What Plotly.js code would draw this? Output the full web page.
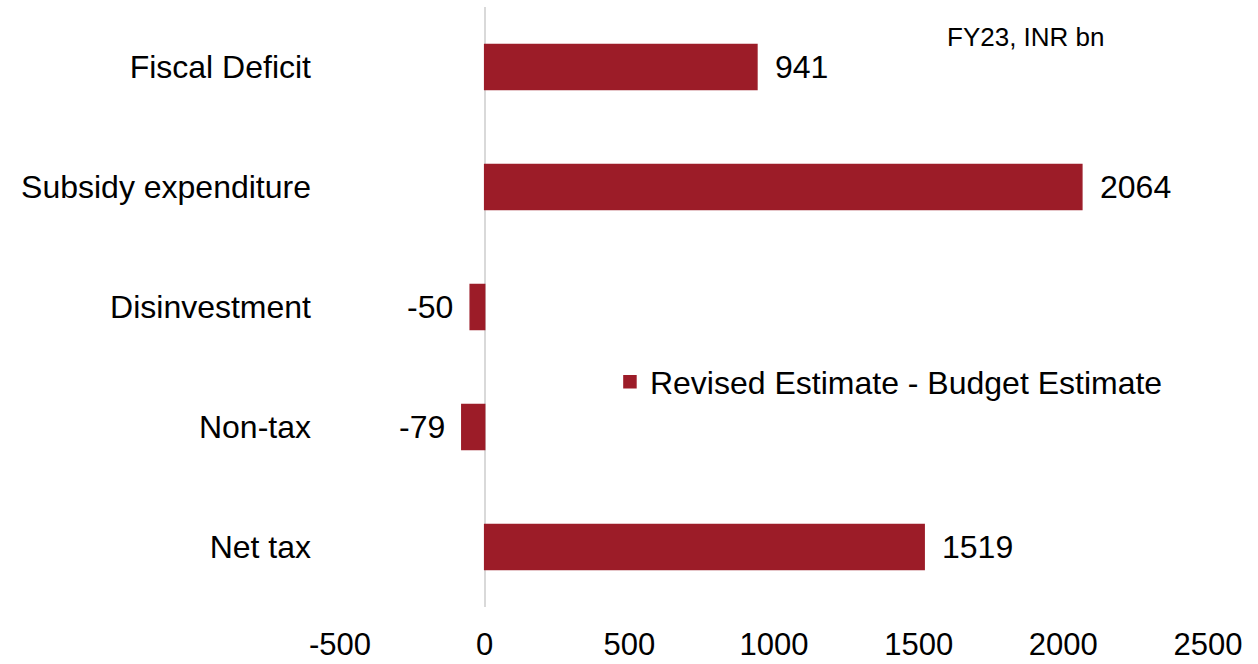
<!DOCTYPE html>
<html>
<head>
<meta charset="utf-8">
<script src="https://cdn.plot.ly/plotly-3.0.1.min.js"></script>
<style>html,body{margin:0;padding:0;background:#fff;}#chart{width:1258px;height:664px;}</style>
</head>
<body>
<div id="chart"></div>
<script>
const categories = ["Fiscal Deficit", "Subsidy expenditure", "Disinvestment", "Non-tax", "Net tax"];
const values = [941, 2064, -50, -79, 1519];
const seriesName = "Revised Estimate - Budget Estimate";
const unitNote = "FY23, INR bn";
const xTicks = [-500, 0, 500, 1000, 1500, 2000, 2500];

const FONT = "Liberation Sans, Arial, sans-serif";
const barColor = "#9C1C28";

const trace = {
  type: "bar",
  orientation: "h",
  x: values,
  y: categories,
  name: seriesName,
  width: 0.375,
  marker: {color: barColor, line: {color: barColor, width: 1.5}},
  hoverinfo: "x+y",
  showlegend: true
};

const labelAnnotations = values.map((v, i) => ({
  x: v, y: categories[i], xref: "x", yref: "y",
  text: String(v), showarrow: false,
  xanchor: v >= 0 ? "left" : "right",
  xshift: v >= 0 ? 16 : -15,
  font: {family: FONT, size: 32, color: "#000"}
}));

const layout = {
  width: 1258, height: 664,
  margin: {l: 340, r: 50, t: 7, b: 57},
  paper_bgcolor: "#fff", plot_bgcolor: "#fff",
  font: {family: FONT, size: 32, color: "#000"},
  xaxis: {
    range: [-500, 2500], tickvals: xTicks, ticktext: xTicks.map(String),
    showgrid: false, zeroline: true, zerolinecolor: "#d9d9d9", zerolinewidth: 2,
    showline: false, ticks: "", ticklabelstandoff: 16,
    tickfont: {family: FONT, size: 31, color: "#000"}, fixedrange: true
  },
  yaxis: {
    type: "category", autorange: "reversed", showgrid: false, zeroline: false,
    showline: false, ticks: "", ticklabelstandoff: 28,
    tickfont: {family: FONT, size: 32, color: "#000"}, fixedrange: true
  },
  showlegend: true,
  legend: {
    x: 0.311, y: 0.375, xanchor: "left", yanchor: "middle",
    bgcolor: "rgba(0,0,0,0)", font: {family: FONT, size: 32, color: "#000"}
  },
  annotations: labelAnnotations.concat([{
    x: (1026 - 340) / 868, y: (607 - 37) / 600, xref: "paper", yref: "paper",
    xanchor: "center", yanchor: "middle",
    text: unitNote, showarrow: false,
    font: {family: FONT, size: 26, color: "#000"}
  }]),
  bargap: 0
};

Plotly.newPlot("chart", [trace], layout, {displayModeBar: false, staticPlot: true});
</script>
</body>
</html>
